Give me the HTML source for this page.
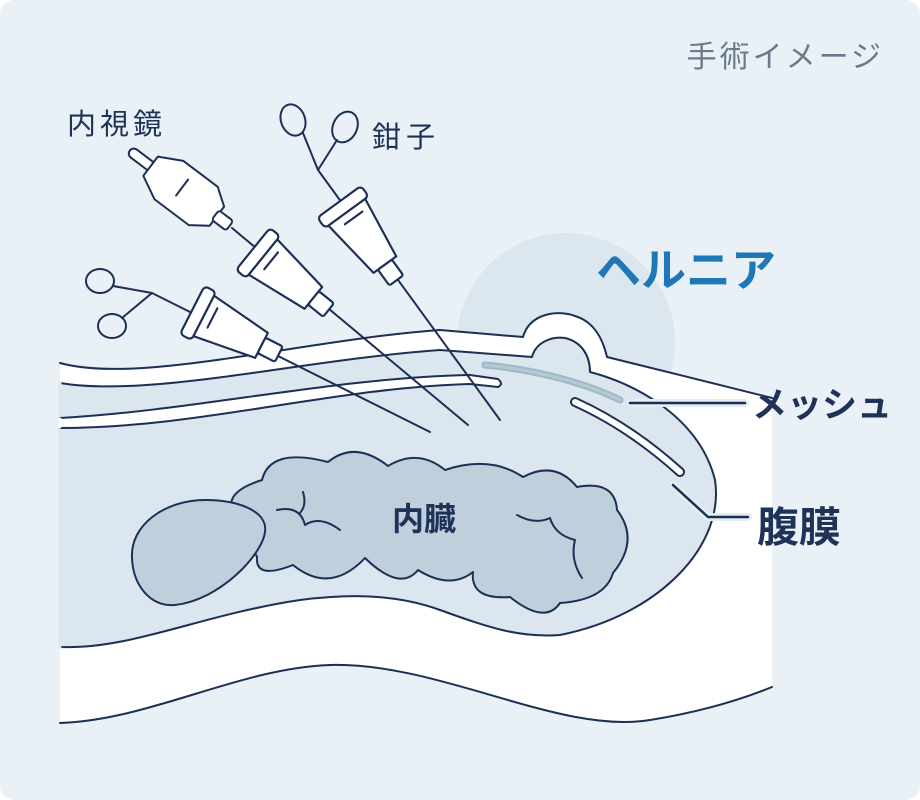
<!DOCTYPE html>
<html><head><meta charset="utf-8"><style>
html,body{margin:0;padding:0;background:#fff;}
svg{display:block;}
text{font-family:"Liberation Sans","Noto Sans CJK JP",sans-serif;}
</style></head><body>
<svg width="920" height="800" viewBox="0 0 920 800" xmlns="http://www.w3.org/2000/svg">
<rect x="0" y="0" width="920" height="800" rx="14" fill="#eaf1f6"/>
<circle cx="566" cy="342" r="109" fill="#dce6ee"/>
<g stroke="#1c2f55" stroke-width="2" fill="none" stroke-linejoin="round" stroke-linecap="round">
<path d="M60,363 C140,385 300,340 440,330 L523,337 C530,312 560,310 575,316 C595,322 603,340 607,357 C660,370 720,385 772,398 L772,687 C740,700 700,712 650,720 C560,735 440,662 330,665 C240,668 150,720 60,723 Z" fill="#fff" stroke="none"/>
<path d="M60,363 C140,385 300,340 440,330 L523,337 C530,312 560,310 575,316 C595,322 603,340 607,357 C660,370 720,385 772,398"/>
<path d="M60,723 C150,720 240,668 330,665 C440,662 560,735 650,720 C700,712 740,700 772,687"/>
<path d="M60,383 C150,398 300,360 440,350 L532,357 C536,342 552,336 565,338 C582,342 590,356 590,372 C640,385 700,420 715,480 C725,545 660,615 560,635 C520,638 490,628 440,610 C390,592 340,595 300,600 C200,615 130,650 60,647 Z" fill="#dce6ee"/>
<line x1="60" y1="383" x2="60" y2="647" stroke="#dce6ee" stroke-width="3"/>
<path d="M60,418 C200,410 330,378 470,375 L498,379 Q504,384 498,387 L470,384 C330,388 200,428 60,428 Z" fill="#fff"/>
<line x1="60" y1="419" x2="60" y2="427" stroke="#fff" stroke-width="3"/>
<path d="M575,402 C615,420 650,445 680,472" stroke-width="10"/>
<path d="M575,402 C615,420 650,445 680,472" stroke="#fff" stroke-width="6"/>
<path d="M485,365 C540,370 590,385 620,400" stroke="#9fb8c6" stroke-width="7"/>
<path d="M485,365 C540,370 590,385 620,400" stroke="#b5c9d4" stroke-width="3"/>
<path d="M262,480 Q270,447 328,462 Q355,440 388,466 Q418,448 445,470 Q490,455 523,477 Q555,460 577,487 Q615,480 617,510 Q640,540 613,573 Q605,600 560,603 Q545,625 510,597 Q470,600 473,572 Q450,590 418,570 Q400,592 365,558 Q330,595 293,565 Q255,580 257,557 L240,520 Q215,495 262,480 Z" fill="#bfd0dc"/>
<path d="M277,510 Q300,505 305,525 Q320,515 340,530"/>
<path d="M303,492 Q307,505 300,513"/>
<path d="M517,515 Q535,525 550,518 Q555,535 575,540 Q570,560 582,578"/>
<path d="M132,558 C130,525 165,500 205,500 C240,500 268,512 265,532 C262,555 220,600 175,605 C150,607 133,585 132,558 Z" fill="#bfd0dc"/>
<line x1="232" y1="228" x2="468" y2="425"/>
<line x1="318" y1="170" x2="500" y2="420"/>
<line x1="152" y1="293" x2="430" y2="432"/>
<ellipse cx="293" cy="120" rx="12" ry="16" transform="rotate(-20 293 120)"/>
<ellipse cx="345" cy="127" rx="12" ry="16" transform="rotate(25 345 127)"/>
<path d="M303,133 L318,170 L337,140"/>
<ellipse cx="100" cy="281" rx="14" ry="12"/>
<ellipse cx="112" cy="326" rx="14" ry="12"/>
<path d="M113,286 L152,293 L122,318"/>
<g transform="translate(133,153) rotate(37)" fill="#fff">
<rect x="-4" y="-5" width="30" height="10" rx="5"/>
<path d="M22,-12 L45,-24 L88,-24 L105,-12 L105,12 L88,24 L45,24 L22,12 Z"/>
<line x1="60" y1="-12" x2="60" y2="8"/>
<rect x="103" y="-6" width="18" height="12" rx="3"/>
</g>
<g transform="translate(258,253) rotate(39) scale(1.08)" fill="#fff">
<rect x="-6" y="-25" width="12" height="50" rx="4"/>
<path d="M6,-21 L66,-13 L66,13 L6,21 Z"/>
<rect x="66" y="-8" width="18" height="16" rx="2"/>
<line x1="14" y1="-12" x2="14" y2="8"/>
</g>
<g transform="translate(343,207) rotate(54) scale(1.08)" fill="#fff">
<rect x="-6" y="-25" width="12" height="50" rx="4"/>
<path d="M6,-21 L66,-13 L66,13 L6,21 Z"/>
<rect x="66" y="-8" width="18" height="16" rx="2"/>
<line x1="14" y1="-12" x2="14" y2="8"/>
</g>
<g transform="translate(198,313) rotate(27) scale(1.08)" fill="#fff">
<rect x="-6" y="-25" width="12" height="50" rx="4"/>
<path d="M6,-21 L66,-13 L66,13 L6,21 Z"/>
<rect x="66" y="-8" width="18" height="16" rx="2"/>
<line x1="14" y1="-12" x2="14" y2="8"/>
</g>
<line x1="630" y1="403" x2="745" y2="403" stroke="#e4edf3" stroke-width="8"/>
<line x1="630" y1="403" x2="745" y2="403" stroke-width="2.5"/>
<path d="M673,485 L708,517 L748,517" stroke="#e4edf3" stroke-width="8"/>
<path d="M673,485 L708,517 L748,517" stroke-width="2.5"/>
</g>
<text x="884" y="67" font-size="30" fill="#6b7a8a" text-anchor="end" letter-spacing="3">手術イメージ</text>
<text x="596" y="286" font-size="45" font-weight="bold" fill="#1f77b8">ヘルニア</text>
<text x="67" y="134" font-size="29" fill="#1f3358" letter-spacing="4">内視鏡</text>
<text x="372" y="147" font-size="29" fill="#1f3358" letter-spacing="5">鉗子</text>
<text x="424" y="530" font-size="32" font-weight="bold" fill="#1f3358" text-anchor="middle">内臓</text>
<text x="752" y="417" font-size="35" font-weight="bold" fill="#1f3358">メッシュ</text>
<text x="757" y="542" font-size="42" font-weight="bold" fill="#1f3358">腹膜</text>
</svg>
</body></html>
